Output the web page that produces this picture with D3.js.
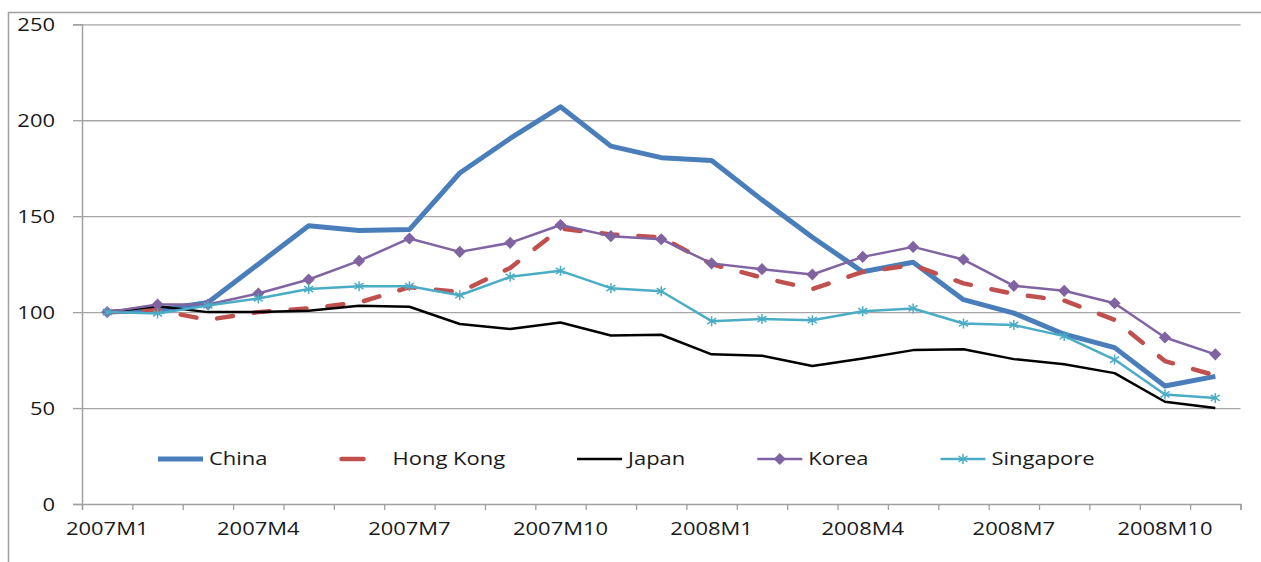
<!DOCTYPE html>
<html>
<head>
<meta charset="utf-8">
<script src="https://cdn.jsdelivr.net/npm/d3@7"></script>
<style>
	html, body { margin: 0; padding: 0; background: #fff; overflow: hidden; }
	svg { display: block; }
	text { font-family: "Open Sans", sans-serif; fill: #1a1a1a; }
</style>
</head>
<body>
<script>
//months along the x axis
let months = ["2007M1", "2007M2", "2007M3", "2007M4", "2007M5", "2007M6", "2007M7", "2007M8",
	"2007M9", "2007M10", "2007M11", "2007M12", "2008M1", "2008M2", "2008M3", "2008M4",
	"2008M5", "2008M6", "2008M7", "2008M8", "2008M9", "2008M10", "2008M11"];
let monthLabels = ["2007M1", "2007M4", "2007M7", "2007M10", "2008M1", "2008M4", "2008M7", "2008M10"];
let yTicks = [0, 50, 100, 150, 200, 250];

//index values
let china = [100, 101, 105, 125, 145, 142.5, 143, 172.5, 190.5, 207, 186.5, 180.5, 179, 158.5, 139, 121, 126, 106.5, 99.5, 88.5, 81.5, 61.5, 66.5];
let hongKong = [100, 101, 96, 100, 102, 105, 113, 110.5, 123, 143.5, 140.5, 139, 125, 118, 112, 121, 124.5, 115, 109.5, 106, 96, 74.5, 67];
let japan = [100, 103, 100, 100, 100.7, 103.3, 102.8, 93.8, 91.2, 94.6, 87.8, 88.2, 78, 77.3, 71.9, 75.8, 80.2, 80.6, 75.5, 72.8, 68.2, 53.3, 50];
let korea = [100, 104, 104, 109.7, 117, 126.7, 138.4, 131.4, 136.1, 145.4, 139.6, 138, 125.4, 122.4, 119.6, 128.8, 134, 127.4, 113.7, 111.1, 104.6, 86.8, 78];
let singapore = [100, 99.3, 103.5, 107.1, 112, 113.5, 113.5, 108.8, 118.4, 121.5, 112.5, 110.9, 95.3, 96.4, 95.8, 100.5, 101.9, 94.1, 93.3, 87.5, 75.3, 57.1, 55.3];

let series = [
	{ name: "China", values: china, color: "#4A7EBB", width: 5 },
	{ name: "Hong Kong", values: hongKong, color: "#C0504D", width: 4.5, dash: "16,21" },
	{ name: "Japan", values: japan, color: "#000000", width: 2.5 },
	{ name: "Korea", values: korea, color: "#8064A2", width: 2.5, marker: "diamond" },
	{ name: "Singapore", values: singapore, color: "#4BACC6", width: 2.5, marker: "star" }
];

let svg = d3.select("body").append("svg")
	.attr("width", 1261)
	.attr("height", 562);

let width = +svg.attr("width");
let height = +svg.attr("height");

let stretch = 1.22; //the text in the picture is drawn wide, so widen it
let fontSize = 18;

//widen a text by stretching its glyphs to a longer length
function widen(sel) {
	sel.each(function() {
		let len = this.getComputedTextLength();
		d3.select(this)
			.attr("textLength", len * stretch)
			.attr("lengthAdjust", "spacingAndGlyphs");
	});
}

//outer chart frame; its right and bottom sides sit past the picture's edge
svg.append("path")
	.attr("d", `M8.5,${height}V12.5H${width}`)
	.attr("fill", "none")
	.attr("stroke", "#a0a0a0")
	.attr("stroke-width", 1.5);

let margin = { top: 24.3, right: 20.5, bottom: 58, left: 82 };
let innerWidth = width - margin.left - margin.right;
let innerHeight = height - margin.top - margin.bottom;

let g = svg.append("g")
	.attr("transform", `translate(${margin.left}, ${margin.top})`);

/*
	SCALES
*/
let scaleX = d3.scaleBand()
	.domain(months)
	.range([0, innerWidth])
	.padding(0);

let scaleTick = d3.scaleLinear() //boundaries between months, for the tick marks
	.domain([0, months.length])
	.range([0, innerWidth]);

let scaleY = d3.scaleLinear()
	.domain([0, 250])
	.range([innerHeight, 0]);

let xPos = i => scaleX(months[i]) + scaleX.bandwidth() / 2;

//gridlines
let grid = g.append("g")
	.call(d3.axisLeft(scaleY).tickValues(yTicks.slice(1)).tickSize(-innerWidth).tickFormat(""));
grid.select(".domain").remove();
grid.selectAll("line").attr("stroke", "#a6a6a6").attr("stroke-width", 1.3);

//y axis
let yG = g.append("g")
	.call(d3.axisLeft(scaleY).tickValues(yTicks).tickSize(9).tickPadding(18));
yG.select(".domain").attr("stroke", "#a0a0a0").attr("stroke-width", 1.5);
yG.selectAll("line").attr("stroke", "#a0a0a0").attr("stroke-width", 1.3);
yG.selectAll("text")
	.attr("font-size", fontSize)
	.attr("font-family", null)
	.attr("fill", null)
	.attr("dy", null)
	.attr("y", 6)
	.call(widen);

//x axis tick marks at the month boundaries
let xT = g.append("g")
	.attr("transform", `translate(0, ${innerHeight})`)
	.call(d3.axisBottom(scaleTick).tickValues(d3.range(months.length + 1)).tickSize(6).tickFormat(""));
xT.select(".domain").attr("stroke", "#a0a0a0").attr("stroke-width", 1.5);
xT.selectAll("line").attr("stroke", "#a0a0a0").attr("stroke-width", 1.3);

//x axis labels, every third month
let xG = g.append("g")
	.attr("transform", `translate(0, ${innerHeight})`)
	.call(d3.axisBottom(scaleX).tickValues(monthLabels).tickSize(0));
xG.select(".domain").remove();
xG.selectAll("text")
	.attr("font-size", fontSize)
	.attr("font-family", null)
	.attr("fill", null)
	.attr("dy", null)
	.attr("y", 31)
	.call(widen);

/*
	LINES
*/
let line = d3.line()
	.x((d, i) => xPos(i))
	.y(d => scaleY(d));

let diamond = "M0,-5L5,0L0,5L-5,0Z";
let star = "M0,-5V5M-4.5,-3L4.5,3M-4.5,3L4.5,-3";

series.forEach(s => {
	g.append("path")
		.datum(s.values)
		.attr("fill", "none")
		.attr("stroke", s.color)
		.attr("stroke-width", s.width)
		.attr("stroke-linejoin", "round")
		.attr("stroke-linecap", s.dash ? "round" : "butt")
		.attr("stroke-dasharray", s.dash || null)
		.attr("d", line);

	if (s.marker) {
		g.append("g").selectAll("path")
			.data(s.values)
			.join("path")
			.attr("transform", (d, i) => `translate(${xPos(i)}, ${scaleY(d)})`)
			.attr("d", s.marker === "diamond" ? diamond : star)
			.attr("fill", s.marker === "diamond" ? s.color : "none")
			.attr("stroke", s.color)
			.attr("stroke-width", 1.5);
	}
});

/*
	LEGEND
*/
let legend = svg.append("g")
	.attr("transform", "translate(158, 459)");

let lx = 0;
series.forEach(s => {
	let item = legend.append("g").attr("transform", `translate(${lx}, 0)`);
	item.append("line")
		.attr("x1", 0).attr("x2", 45)
		.attr("stroke", s.color)
		.attr("stroke-width", s.width)
		.attr("stroke-linecap", s.dash ? "round" : "butt")
		.attr("stroke-dasharray", s.dash ? "22,40" : null)
		.attr("transform", s.dash ? "translate(2,0)" : null);
	if (s.marker) {
		item.append("path")
			.attr("transform", "translate(22.5, 0)")
			.attr("d", s.marker === "diamond" ? diamond : star)
			.attr("fill", s.marker === "diamond" ? s.color : "none")
			.attr("stroke", s.color)
			.attr("stroke-width", 1.5);
	}
	let tx = s.dash ? 53 : 51;
	let t = item.append("text")
		.attr("x", tx)
		.attr("y", 6)
		.attr("font-size", fontSize)
		.text(s.name)
		.call(widen);
	lx += tx + +t.attr("textLength") + 72;
});
</script>
</body>
</html>
